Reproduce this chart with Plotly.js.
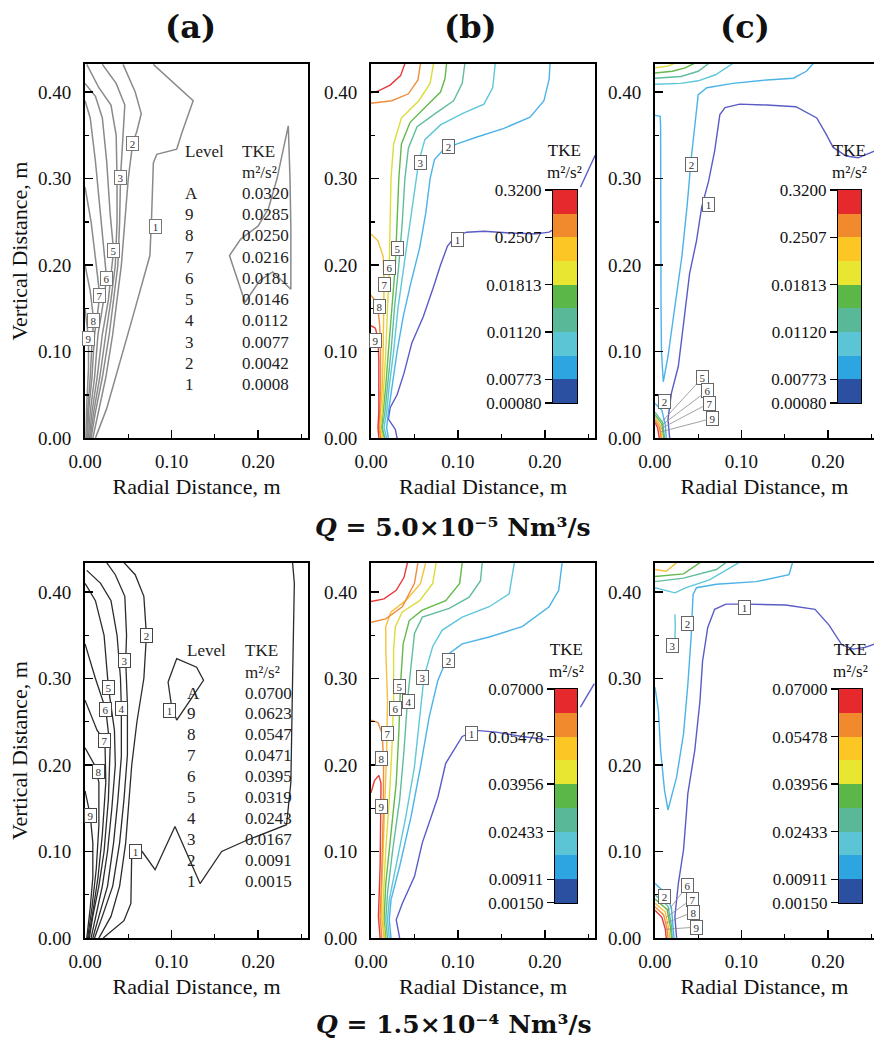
<!DOCTYPE html>
<html>
<head>
<meta charset="utf-8">
<script src="https://cdn.plot.ly/plotly-3.0.1.min.js"></script>
<style>
  html, body { margin: 0; padding: 0; background: #fff; }
  #chart { width: 874px; height: 1053px; }
</style>
</head>
<body>
<div id="chart"></div>
<script>
// ---------- contour polylines, [radial distance m, vertical distance m] ----------
// (a) Q = 5.0e-5, measured
const aT1 = [[0.079,0.432],[0.125,0.39],[0.112,0.353],[0.106,0.334],[0.083,0.328],[0.079,0.318],[0.077,0.257],[0.075,0.211],[0.056,0.143],[0.05,0.122],[0.025,0.034],[0.012,0]];
const aT1loop = [[0.235,0.361],[0.237,0.30],[0.238,0.24],[0.238,0.172],[0.217,0.192],[0.202,0.182],[0.185,0.157],[0.176,0.185],[0.167,0.211],[0.18,0.23],[0.2,0.245],[0.212,0.265],[0.222,0.30],[0.235,0.361]];
const aT2 = [[0.044,0.432],[0.058,0.40],[0.065,0.375],[0.06,0.355],[0.055,0.34],[0.05,0.30],[0.046,0.25],[0.042,0.2],[0.037,0.16],[0.032,0.12],[0.024,0.07],[0.015,0.03],[0.009,0]];
const aT3 = [[0.02,0.432],[0.036,0.41],[0.046,0.385],[0.044,0.35],[0.041,0.301],[0.04,0.25],[0.038,0.2],[0.033,0.16],[0.028,0.12],[0.02,0.07],[0.012,0.03],[0.007,0]];
const aT4 = [[0.002,0.432],[0.016,0.405],[0.03,0.385],[0.036,0.35],[0.037,0.3],[0.037,0.25],[0.035,0.2],[0.03,0.16],[0.024,0.12],[0.017,0.07],[0.01,0.03],[0.006,0]];
const aT5 = [[0,0.41],[0.012,0.395],[0.02,0.37],[0.025,0.32],[0.029,0.26],[0.033,0.217],[0.027,0.16],[0.02,0.12],[0.014,0.07],[0.008,0.03],[0.005,0]];
const aT6 = [[0,0.39],[0.006,0.37],[0.012,0.32],[0.018,0.26],[0.025,0.184],[0.02,0.15],[0.015,0.12],[0.011,0.07],[0.006,0.03],[0.004,0]];
const aT7 = [[0,0.29],[0.007,0.25],[0.013,0.2],[0.017,0.165],[0.014,0.14],[0.011,0.12],[0.008,0.07],[0.004,0.03],[0.003,0]];
const aT8 = [[0,0.2],[0.006,0.17],[0.01,0.136],[0.008,0.11],[0.006,0.07],[0.003,0.03],[0.002,0]];
const aT9 = [[0,0.15],[0.004,0.115],[0.004,0.08],[0.002,0.04],[0.001,0]];

// (a) Q = 1.5e-4, measured
const aB1 = [[0.021,0],[0.045,0.02],[0.053,0.04],[0.054,0.1],[0.066,0.1],[0.081,0.079],[0.104,0.129],[0.133,0.063],[0.158,0.1],[0.187,0.113],[0.233,0.131],[0.238,0.18],[0.24,0.3],[0.242,0.41],[0.24,0.434]];
const aB1loop = [[0.096,0.296],[0.106,0.323],[0.129,0.313],[0.137,0.298],[0.123,0.277],[0.106,0.252],[0.1,0.268],[0.096,0.296]];
const aB2 = [[0.045,0.434],[0.058,0.42],[0.068,0.395],[0.071,0.35],[0.068,0.3],[0.06,0.25],[0.054,0.2],[0.05,0.15],[0.047,0.11],[0.04,0.06],[0.03,0.025],[0.016,0]];
const aB3 = [[0.025,0.434],[0.035,0.42],[0.046,0.395],[0.048,0.35],[0.047,0.321],[0.049,0.27],[0.049,0.212],[0.045,0.16],[0.04,0.11],[0.032,0.06],[0.02,0.025],[0.011,0]];
const aB4 = [[0.002,0.425],[0.018,0.41],[0.03,0.39],[0.037,0.35],[0.041,0.3],[0.042,0.265],[0.042,0.21],[0.038,0.16],[0.033,0.11],[0.026,0.06],[0.016,0.025],[0.009,0]];
const aB5 = [[0,0.41],[0.012,0.39],[0.022,0.35],[0.027,0.29],[0.034,0.24],[0.035,0.2],[0.031,0.15],[0.026,0.1],[0.02,0.06],[0.012,0.025],[0.007,0]];
const aB6 = [[0,0.34],[0.012,0.3],[0.024,0.264],[0.029,0.22],[0.027,0.16],[0.022,0.1],[0.016,0.06],[0.009,0.025],[0.005,0]];
const aB7 = [[0,0.275],[0.014,0.24],[0.023,0.228],[0.024,0.18],[0.02,0.12],[0.015,0.07],[0.009,0.03],[0.004,0]];
const aB8 = [[0,0.22],[0.011,0.2],[0.016,0.18],[0.016,0.13],[0.013,0.08],[0.008,0.035],[0.003,0]];
const aB9 = [[0,0.17],[0.006,0.142],[0.009,0.11],[0.009,0.07],[0.006,0.035],[0.002,0]];

// (b) Q = 5.0e-5, model 1
const bT1 = [[0.03,0],[0.028,0.01],[0.02,0.022],[0.022,0.035],[0.03,0.05],[0.038,0.075],[0.047,0.11],[0.06,0.14],[0.072,0.175],[0.08,0.2],[0.088,0.222],[0.097,0.233],[0.11,0.238],[0.13,0.239],[0.16,0.237],[0.19,0.236],[0.205,0.238],[0.212,0.242],[null,null],[0.241,0.29],[0.258,0.327]];
const bT2 = [[0.02,0],[0.018,0.012],[0.02,0.03],[0.024,0.06],[0.03,0.1],[0.037,0.14],[0.046,0.18],[0.056,0.22],[0.063,0.26],[0.068,0.3],[0.073,0.322],[0.083,0.333],[0.099,0.34],[0.122,0.348],[0.153,0.358],[0.183,0.371],[0.199,0.39],[0.205,0.415],[0.206,0.433]];
const bT3 = [[0.018,0],[0.015,0.012],[0.018,0.03],[0.021,0.06],[0.026,0.1],[0.031,0.15],[0.038,0.2],[0.045,0.25],[0.05,0.29],[0.055,0.32],[0.062,0.345],[0.08,0.362],[0.105,0.375],[0.13,0.386],[0.14,0.405],[0.143,0.433]];
const bT4 = [[0.016,0],[0.013,0.012],[0.016,0.03],[0.019,0.06],[0.023,0.1],[0.027,0.15],[0.032,0.2],[0.036,0.25],[0.039,0.3],[0.043,0.335],[0.053,0.36],[0.075,0.376],[0.095,0.39],[0.105,0.41],[0.108,0.433]];
const bT5 = [[0.015,0],[0.012,0.012],[0.014,0.03],[0.017,0.06],[0.02,0.1],[0.024,0.15],[0.028,0.2],[0.03,0.25],[0.032,0.3],[0.035,0.34],[0.045,0.365],[0.065,0.385],[0.08,0.4],[0.085,0.415],[0.087,0.433]];
const bT6 = [[0.014,0],[0.011,0.012],[0.013,0.03],[0.015,0.06],[0.017,0.1],[0.019,0.15],[0.021,0.197],[0.022,0.25],[0.023,0.3],[0.026,0.34],[0.035,0.37],[0.055,0.39],[0.068,0.41],[0.072,0.433]];
const bT7 = [[0.012,0],[0.01,0.012],[0.011,0.03],[0.013,0.06],[0.014,0.1],[0.015,0.15],[0.015,0.178],[0.014,0.21],[0.008,0.228],[0,0.236]];
const bT8 = [[0.011,0],[0.009,0.012],[0.01,0.03],[0.011,0.06],[0.011,0.1],[0.01,0.13],[0.008,0.149],[0.004,0.16],[0,0.165]];
const bT8top = [[0.057,0.433],[0.054,0.414],[0.043,0.398],[0.024,0.39],[0,0.387]];
const bT9 = [[0.009,0],[0.008,0.012],[0.009,0.03],[0.009,0.06],[0.009,0.09],[0.008,0.115],[0.005,0.127],[0,0.13]];
const bT9top = [[0.039,0.433],[0.034,0.419],[0.022,0.408],[0.008,0.401],[0,0.399]];

// (b) Q = 1.5e-4, model 1
const bB1 = [[0.033,0],[0.029,0.021],[0.036,0.04],[0.05,0.071],[0.059,0.11],[0.077,0.163],[0.086,0.202],[0.105,0.233],[0.121,0.24],[0.144,0.238],[0.174,0.233],[0.205,0.229],[null,null],[0.241,0.267],[0.257,0.294]];
const bB2 = [[0.023,0],[0.021,0.021],[0.023,0.044],[0.033,0.083],[0.046,0.14],[0.057,0.198],[0.067,0.256],[0.077,0.298],[0.09,0.329],[0.105,0.34],[0.136,0.348],[0.174,0.36],[0.205,0.383],[0.216,0.402],[0.22,0.434]];
const bB3 = [[0.021,0],[0.019,0.021],[0.021,0.044],[0.029,0.083],[0.04,0.14],[0.05,0.198],[0.056,0.256],[0.061,0.302],[0.071,0.337],[0.082,0.356],[0.105,0.371],[0.136,0.383],[0.159,0.398],[0.165,0.434]];
const bB4 = [[0.019,0],[0.017,0.021],[0.019,0.052],[0.025,0.102],[0.033,0.16],[0.038,0.217],[0.042,0.275],[0.046,0.313],[0.05,0.352],[0.059,0.371],[0.09,0.381],[0.113,0.394],[0.126,0.413],[0.128,0.434]];
const bB5 = [[0.017,0],[0.015,0.021],[0.017,0.063],[0.023,0.121],[0.029,0.179],[0.032,0.237],[0.034,0.294],[0.037,0.34],[0.044,0.367],[0.059,0.379],[0.086,0.39],[0.102,0.41],[0.105,0.434]];
const bB6 = [[0.016,0],[0.014,0.021],[0.014,0.044],[0.017,0.102],[0.021,0.16],[0.024,0.217],[0.026,0.275],[0.026,0.333],[0.028,0.36],[0.036,0.377],[0.056,0.39],[0.071,0.41],[0.075,0.434]];
const bB7 = [[0.015,0],[0.0125,0.021],[0.012,0.044],[0.014,0.102],[0.016,0.16],[0.018,0.217],[0.019,0.275],[0.017,0.333],[0.017,0.36],[0.023,0.377],[0.04,0.39],[0.057,0.41],[0.063,0.434]];
const bB8 = [[0.0125,0],[0.0105,0.025],[0.0125,0.083],[0.014,0.14],[0.0145,0.2],[0.013,0.236],[0.008,0.249],[0,0.252]];
const bB8top = [[0.054,0.434],[0.05,0.41],[0.036,0.383],[0.017,0.369],[0,0.365]];
const bB9 = [[0.0105,0],[0.0085,0.025],[0.0105,0.083],[0.0115,0.14],[0.0115,0.179],[0.009,0.188],[0.004,0.182],[0,0.168]];
const bB9top = [[0.042,0.434],[0.038,0.417],[0.029,0.402],[0.015,0.392],[0,0.389]];

// (c) Q = 5.0e-5, model 2
const cT1 = [[0.017,0],[0.015,0.021],[0.019,0.052],[0.027,0.083],[0.033,0.132],[0.04,0.19],[0.048,0.228],[0.054,0.267],[0.062,0.297],[0.069,0.332],[0.075,0.374],[0.081,0.382],[0.098,0.386],[0.129,0.385],[0.163,0.383],[0.187,0.37],[0.198,0.351],[0.206,0.336],[0.221,0.326],[0.235,0.324],[0.254,0.332]];
const cT2 = [[0.183,0.433],[0.175,0.424],[0.16,0.416],[0.129,0.414],[0.09,0.41],[0.06,0.405],[0.05,0.397],[0.046,0.362],[0.042,0.324],[0.037,0.267],[0.031,0.209],[0.023,0.152],[0.015,0.094],[0.0096,0.065],[0.0075,0.1],[0.007,0.152],[0.007,0.267],[0.0065,0.362],[0.006,0.372],[0.002,0.373],[0,0.373]];
const cT2low = [[0,0.04],[0.008,0.032],[0.012,0.015],[0.013,0]];
const cT3 = [[0,0.409],[0.03,0.41],[0.05,0.413],[0.07,0.42],[0.09,0.433]];
const cT4 = [[0,0.416],[0.03,0.418],[0.05,0.424],[0.062,0.433]];
const cT5 = [[0,0.422],[0.02,0.424],[0.035,0.428],[0.045,0.433]];
const cT6 = [[0,0.428],[0.015,0.43],[0.022,0.433]];
const cT4low = [[0,0.03],[0.009,0.018],[0.011,0]];
const cT5low = [[0,0.027],[0.008,0.016],[0.01,0]];
const cT7low = [[0,0.024],[0.006,0.015],[0.008,0]];
const cT8low = [[0,0.021],[0.005,0.013],[0.007,0]];
const cT9low = [[0,0.018],[0.003,0.012],[0.005,0]];

// (c) Q = 1.5e-4, model 2
const cB1 = [[0.025,0],[0.023,0.025],[0.027,0.063],[0.033,0.102],[0.036,0.14],[0.038,0.167],[0.046,0.217],[0.052,0.274],[0.055,0.32],[0.061,0.359],[0.069,0.38],[0.082,0.386],[0.105,0.386],[0.151,0.385],[0.185,0.38],[0.201,0.362],[0.216,0.339],[0.229,0.334],[0.243,0.336],[0.254,0.34]];
const cB2 = [[0.159,0.434],[0.155,0.42],[0.117,0.412],[0.071,0.409],[0.048,0.405],[0.044,0.397],[0.042,0.351],[0.038,0.293],[0.033,0.236],[0.025,0.186],[0.015,0.148],[0.011,0.171],[0.0065,0.217],[0.004,0.263],[0,0.29]];
const cB2low = [[0,0.063],[0.012,0.052],[0.019,0.035],[0.021,0.015],[0.022,0]];
const cB3 = [[0,0.405],[0.011,0.402],[0.023,0.399],[0.036,0.405],[0.063,0.414],[0.097,0.434]];
const cB3bit = [[0.023,0.374],[0.0235,0.36],[0.023,0.347]];
const cB4 = [[0,0.412],[0.033,0.416],[0.071,0.426],[0.082,0.434]];
const cB5 = [[0,0.418],[0.033,0.421],[0.052,0.434]];
const cB7 = [[0,0.426],[0.013,0.424],[0.025,0.434]];
const cB4low = [[0,0.05],[0.015,0.037],[0.019,0.015],[0.02,0]];
const cB5low = [[0,0.045],[0.014,0.033],[0.018,0.012],[0.019,0]];
const cB7low = [[0,0.04],[0.012,0.03],[0.016,0.01],[0.017,0]];
const cB8low = [[0,0.036],[0.01,0.027],[0.014,0.01],[0.015,0]];
const cB9low = [[0,0.032],[0.008,0.024],[0.012,0.01],[0.013,0]];

// ---------- contour level tags: [text, r, z] ----------
const aTopTags = [['1',0.081,0.245],['2',0.055,0.34],['3',0.041,0.301],['5',0.033,0.217],['6',0.025,0.184],['7',0.017,0.165],['8',0.01,0.136],['9',0.004,0.115]];
const aBotTags = [['1',0.058,0.1],['1',0.098,0.263],['2',0.071,0.35],['3',0.046,0.321],['4',0.042,0.265],['5',0.027,0.29],['6',0.024,0.264],['7',0.023,0.228],['8',0.016,0.192],['9',0.006,0.142]];
const bTopTags = [['1',0.099,0.229],['2',0.089,0.337],['3',0.057,0.319],['5',0.030,0.219],['6',0.021,0.197],['7',0.015,0.178],['8',0.0096,0.152],['9',0.0054,0.113]];
const bBotTags = [['1',0.116,0.236],['2',0.089,0.321],['3',0.059,0.301],['4',0.043,0.273],['5',0.033,0.291],['6',0.028,0.265],['7',0.019,0.237],['8',0.0123,0.208],['9',0.0123,0.152]];
const cTopTags = [['1',0.062,0.27],['2',0.042,0.316],['2',0.0115,0.042]];
const cBotTags = [['1',0.103,0.382],['2',0.038,0.364],['3',0.02,0.338],['2',0.0115,0.0485]];
// tags joined to their line by a leader: [text, tag r, tag z, line r, line z]
const cTopLeaders = [['5',0.0555,0.0705,0.009,0.02],['6',0.061,0.055,0.008,0.015],['7',0.063,0.0405,0.007,0.011],['9',0.067,0.023,0.006,0.007]];
const cBotLeaders = [['6',0.038,0.061,0.014,0.03],['7',0.043,0.045,0.013,0.024],['8',0.044,0.03,0.012,0.017],['9',0.0485,0.0127,0.012,0.01]];

// ---------- level tables and colour keys ----------
const tableLevels = ['A','9','8','7','6','5','4','3','2','1'];
const tkeLow  = ['0.0320','0.0285','0.0250','0.0216','0.0181','0.0146','0.0112','0.0077','0.0042','0.0008'];
const tkeHigh = ['0.0700','0.0623','0.0547','0.0471','0.0395','0.0319','0.0243','0.0167','0.0091','0.0015'];
const keyTickPos = [0,1,3,5,7,9];
const keyTicksLow  = ['0.00080','0.00773','0.01120','0.01813','0.2507','0.3200'];
const keyTicksHigh = ['0.00150','0.00911','0.02433','0.03956','0.05478','0.07000'];
const keyBands = [0,1,2,3,4,5,6,7,8];
const TKE_UNIT = 'm²/s²';

// ---------- styles ----------
const SERIF = 'Liberation Serif, Times New Roman, serif';
const BOLD_SERIF = 'DejaVu Serif, serif';
const LEVEL_COLORS = ['#5b5bc7','#4cb3e8','#5fc7d9','#5fbd9e','#63b94b','#dcdc3a','#f6c03c','#f08d3c','#e6393b'];
const BAND_COLORS = ['#2b4fa1','#2ca5e0','#5bc5d5','#58b897','#5bb848','#e8e630','#fcc624','#f18a2c','#e5292c'];

const COL_X = [[0.0973,0.3524],[0.4245,0.6808],[0.7494,1.0]];
const ROW_Y = [[0.5840,0.9392],[0.1092,0.4653]];
const X_RANGE = [[0,0.2578],[0,0.2578],[0,0.2532]];
const Y_RANGE = [[0,0.4324],[0,0.4335]];

const traces = [];
const annotations = [];
const layout = {
  width: 874, height: 1053,
  margin: {l: 0, r: 0, t: 0, b: 0},
  paper_bgcolor: '#fff', plot_bgcolor: '#fff',
  showlegend: false,
  font: {family: SERIF, color: '#111'},
  annotations: annotations
};

function sfx(n) { return n === 1 ? '' : String(n); }

function mainAxes(n, col, row) {
  const s = sfx(n);
  layout['xaxis' + s] = {
    domain: COL_X[col], range: X_RANGE[col], anchor: 'y' + s,
    tick0: 0, dtick: 0.1, tickformat: '.2f',
    ticks: 'inside', ticklen: 8, tickwidth: 1.6, tickcolor: '#000',
    minor: {tick0: 0, dtick: 0.05, ticks: 'inside', ticklen: 4, tickwidth: 1.4, tickcolor: '#000', showgrid: false},
    showline: true, linecolor: '#000', linewidth: 2, mirror: true,
    showgrid: false, zeroline: false, fixedrange: true,
    tickfont: {family: SERIF, size: 19, color: '#111'}, ticklabelstandoff: 5,
    title: {text: 'Radial Distance, m', font: {family: SERIF, size: 22, color: '#111'}, standoff: 8}
  };
  const yAxis = {
    domain: ROW_Y[row], range: Y_RANGE[row], anchor: 'x' + s,
    tick0: 0, dtick: 0.1, tickformat: '.2f',
    ticks: 'inside', ticklen: 8, tickwidth: 1.6, tickcolor: '#000',
    minor: {tick0: 0, dtick: 0.05, ticks: 'inside', ticklen: 4, tickwidth: 1.4, tickcolor: '#000', showgrid: false},
    showline: true, linecolor: '#000', linewidth: 2, mirror: col !== 2,
    showgrid: false, zeroline: false, fixedrange: true,
    tickfont: {family: SERIF, size: 19, color: '#111'}, ticklabelstandoff: 8
  };
  if (col === 0) {
    yAxis.title = {text: 'Vertical Distance, m', font: {family: SERIF, size: 22, color: '#111'}, standoff: 4};
  }
  layout['yaxis' + s] = yAxis;
}

function addLines(n, list, styleFor) {
  const s = sfx(n);
  list.forEach(([lvl, pts]) => {
    traces.push({
      type: 'scatter', mode: 'lines',
      x: pts.map(p => p[0]), y: pts.map(p => p[1]),
      xaxis: 'x' + s, yaxis: 'y' + s,
      line: styleFor(lvl), connectgaps: false, hoverinfo: 'skip'
    });
  });
}

function tagStyle(border) {
  return {
    showarrow: false, font: {family: SERIF, size: 11, color: '#333'},
    bgcolor: '#fff', bordercolor: border, borderwidth: 1, borderpad: 1,
    width: 9, height: 11, xanchor: 'center', yanchor: 'middle'
  };
}

function addTags(n, tags, border) {
  const s = sfx(n);
  tags.forEach(([t, r, z]) => {
    annotations.push(Object.assign(tagStyle(border), {x: r, y: z, xref: 'x' + s, yref: 'y' + s, text: t}));
  });
}

function addLeaders(n, list) {
  const s = sfx(n);
  list.forEach(([t, tr, tz, lr, lz]) => {
    annotations.push(Object.assign(tagStyle('#666'), {
      showarrow: true, arrowhead: 0, arrowwidth: 0.8, arrowcolor: '#8a8a8a', standoff: 0,
      x: lr, y: lz, xref: 'x' + s, yref: 'y' + s,
      ax: tr, ay: tz, axref: 'x' + s, ayref: 'y' + s, text: t
    }));
  });
}

// level / TKE table inside the (a) panels
function addTable(n, values, geom) {
  const s = sfx(n);
  const base = {xref: 'x' + s + ' domain', yref: 'y' + s + ' domain', showarrow: false,
                xanchor: 'left', yanchor: 'middle', font: {family: SERIF, size: 17, color: '#222'}};
  annotations.push(Object.assign({}, base, {x: geom.levelX, y: geom.headY, text: 'Level'}));
  annotations.push(Object.assign({}, base, {x: geom.valueX, y: geom.headY, text: 'TKE'}));
  annotations.push(Object.assign({}, base, {x: geom.valueX, y: geom.unitY, text: TKE_UNIT}));
  tableLevels.forEach((lv, i) => {
    const y = geom.rowY - i * geom.rowStep;
    annotations.push(Object.assign({}, base, {x: geom.levelX, y: y, text: lv}));
    annotations.push(Object.assign({}, base, {x: geom.valueX, y: y, text: values[i]}));
  });
}

// discrete colour key drawn as a one-column heatmap on its own small axes
function addKey(n, xDom, yDom, tickText) {
  const s = sfx(n);
  const scale = [];
  BAND_COLORS.forEach((c, i) => {
    scale.push([i / BAND_COLORS.length, c]);
    scale.push([(i + 1) / BAND_COLORS.length, c]);
  });
  traces.push({
    type: 'heatmap', x: [0], y: keyBands.map(b => b + 0.5), z: keyBands.map(b => [b]),
    zmin: -0.5, zmax: BAND_COLORS.length - 0.5, colorscale: scale, showscale: false,
    xaxis: 'x' + s, yaxis: 'y' + s, hoverinfo: 'skip'
  });
  layout['xaxis' + s] = {
    domain: xDom, range: [-0.5, 0.5], anchor: 'y' + s, showticklabels: false, ticks: '',
    showline: true, linecolor: '#000', linewidth: 1.2, mirror: true,
    showgrid: false, zeroline: false, fixedrange: true
  };
  layout['yaxis' + s] = {
    domain: yDom, range: [-0.002, BAND_COLORS.length + 0.002], anchor: 'x' + s, side: 'left',
    tickmode: 'array', tickvals: keyTickPos, ticktext: tickText,
    ticks: 'outside', ticklen: 7, tickwidth: 1.2, tickcolor: '#000',
    showline: true, linecolor: '#000', linewidth: 1.2, mirror: true,
    showgrid: false, zeroline: false, fixedrange: true,
    tickfont: {family: SERIF, size: 17, color: '#111'}
  };
  annotations.push({
    xref: 'x' + s + ' domain', yref: 'y' + s + ' domain', x: 0.5, y: 1, yshift: 6,
    xanchor: 'center', yanchor: 'bottom', showarrow: false, align: 'center',
    text: 'TKE<br>' + TKE_UNIT, font: {family: SERIF, size: 17, color: '#111'}
  });
}

// ---------- panels ----------
mainAxes(1, 0, 0); mainAxes(2, 1, 0); mainAxes(3, 2, 0);
mainAxes(4, 0, 1); mainAxes(5, 1, 1); mainAxes(6, 2, 1);

const grayTop = () => ({color: '#8a8a8a', width: 1.5});
const grayBot = () => ({color: '#2b2b2b', width: 1.3});
const colored = lvl => ({color: LEVEL_COLORS[lvl - 1], width: 1.4});

addLines(1, [[1,aT1],[1,aT1loop],[2,aT2],[3,aT3],[4,aT4],[5,aT5],[6,aT6],[7,aT7],[8,aT8],[9,aT9]], grayTop);
addLines(4, [[1,aB1],[1,aB1loop],[2,aB2],[3,aB3],[4,aB4],[5,aB5],[6,aB6],[7,aB7],[8,aB8],[9,aB9]], grayBot);
addLines(2, [[1,bT1],[2,bT2],[3,bT3],[4,bT4],[5,bT5],[6,bT6],[7,bT7],[8,bT8],[8,bT8top],[9,bT9],[9,bT9top]], colored);
addLines(5, [[1,bB1],[2,bB2],[3,bB3],[4,bB4],[5,bB5],[6,bB6],[7,bB7],[8,bB8],[8,bB8top],[9,bB9],[9,bB9top]], colored);
addLines(3, [[1,cT1],[2,cT2],[2,cT2low],[3,cT3],[4,cT4],[5,cT5],[6,cT6],[4,cT4low],[5,cT5low],[7,cT7low],[8,cT8low],[9,cT9low]], colored);
addLines(6, [[1,cB1],[2,cB2],[2,cB2low],[3,cB3],[3,cB3bit],[4,cB4],[5,cB5],[7,cB7],[4,cB4low],[5,cB5low],[7,cB7low],[8,cB8low],[9,cB9low]], colored);

addTags(1, aTopTags, '#777');
addTags(4, aBotTags, '#444');
addTags(2, bTopTags, '#666');
addTags(5, bBotTags, '#666');
addTags(3, cTopTags, '#666');
addTags(6, cBotTags, '#666');
addLeaders(3, cTopLeaders);
addLeaders(6, cBotLeaders);

addTable(1, tkeLow,  {levelX: 0.4395, valueX: 0.695, headY: 0.765, unitY: 0.711, rowY: 0.655, rowStep: 0.0570});
addTable(4, tkeHigh, {levelX: 0.4484, valueX: 0.7085, headY: 0.768, unitY: 0.709, rowY: 0.6533, rowStep: 0.0557});

addKey(7,  [0.6327,0.6602], [0.6173,0.8196], keyTicksLow);
addKey(8,  [0.9588,0.9851], [0.6173,0.8196], keyTicksLow);
addKey(9,  [0.6350,0.6602], [0.1425,0.3457], keyTicksHigh);
addKey(10, [0.9600,0.9863], [0.1425,0.3457], keyTicksHigh);

// column headings and flow-rate captions
[['(a)', 0.2174], ['(b)', 0.5378], ['(c)', 0.8524]].forEach(([t, x]) => {
  annotations.push({xref: 'paper', yref: 'paper', x: x, y: 0.9744, showarrow: false,
    xanchor: 'center', yanchor: 'middle', text: '<b>' + t + '</b>',
    font: {family: BOLD_SERIF, size: 32, color: '#111'}});
});
annotations.push({xref: 'paper', yref: 'paper', x: 0.5183, y: 0.4995, showarrow: false,
  xanchor: 'center', yanchor: 'middle',
  text: '<b><i>Q</i> = 5.0×10⁻⁵ Nm³/s</b>',
  font: {family: BOLD_SERIF, size: 25, color: '#111'}});
annotations.push({xref: 'paper', yref: 'paper', x: 0.5195, y: 0.0266, showarrow: false,
  xanchor: 'center', yanchor: 'middle',
  text: '<b><i>Q</i> = 1.5×10⁻⁴ Nm³/s</b>',
  font: {family: BOLD_SERIF, size: 25, color: '#111'}});

Plotly.newPlot('chart', traces, layout, {staticPlot: true, displayModeBar: false});
</script>
</body>
</html>
